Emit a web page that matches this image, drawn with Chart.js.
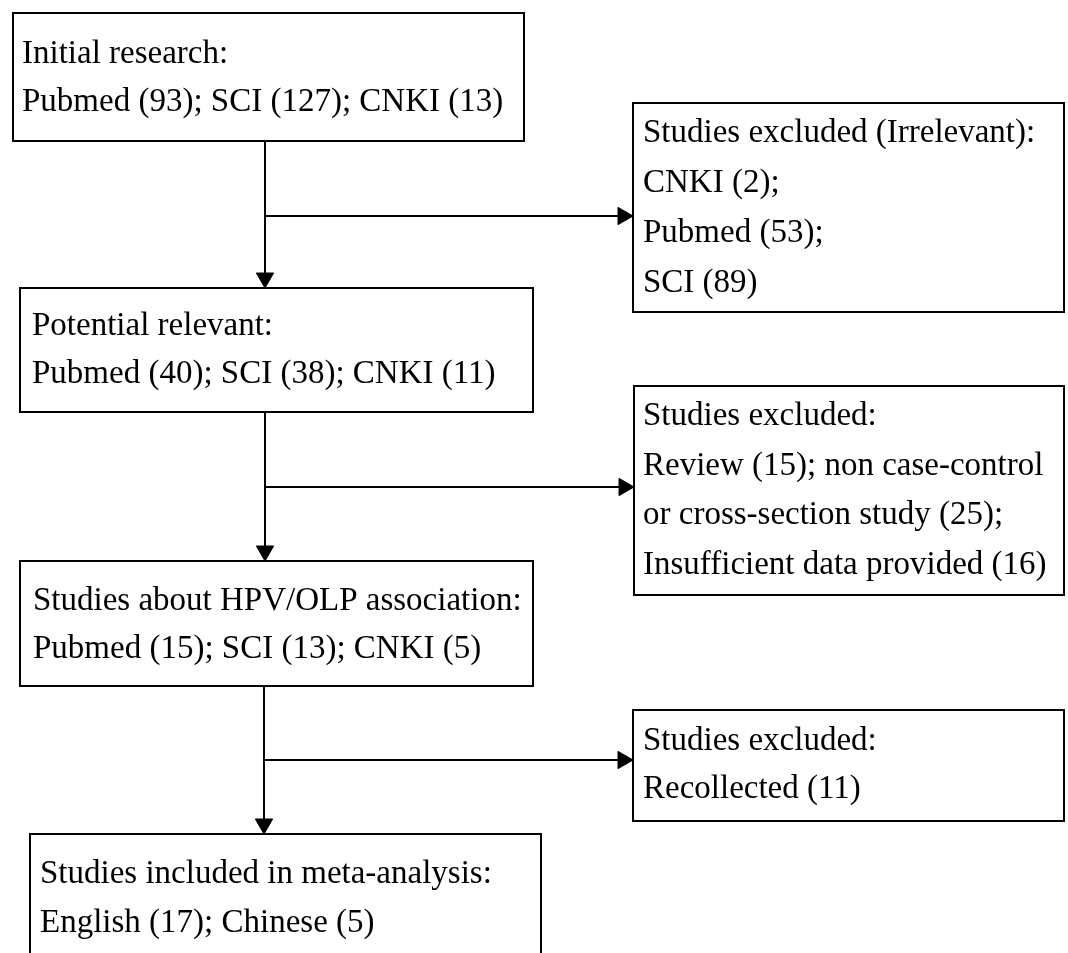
<!DOCTYPE html>
<html>
<head>
<meta charset="utf-8">
<script src="https://cdn.jsdelivr.net/npm/chart.js@4.4.1/dist/chart.umd.min.js"></script>
<style>
  html, body { margin: 0; padding: 0; background: #fff; }
  #wrap { width: 1068px; height: 953px; }
</style>
</head>
<body>
<div id="wrap"><canvas id="flow" width="1068" height="953"></canvas></div>
<script>
// Study selection flow (HPV / OLP meta-analysis), drawn on a 1:1 linear x/y plane

// counts per database at each stage
const databases = ['Pubmed', 'SCI', 'CNKI'];
const initialCounts = [93, 127, 13];
const potentialCounts = [40, 38, 11];
const associationCounts = [15, 13, 5];

// first exclusion step (irrelevant)
const irrelevantSources = ['CNKI', 'Pubmed', 'SCI'];
const irrelevantCounts = [2, 53, 89];

// second exclusion step
const exclusionCounts = [15, 25, 16]; // review, non case-control/cross-section, insufficient data
const recollectedCount = 11;

// final inclusion
const languages = ['English', 'Chinese'];
const includedCounts = [17, 5];

const fmt = (name, n) => `${name} (${n})`;
const joinCounts = (names, counts) => names.map((d, i) => fmt(d, counts[i])).join('; ');

const boxLines = {
  initial: ['Initial research:', joinCounts(databases, initialCounts)],
  irrelevant: ['Studies excluded (Irrelevant):'].concat(
    irrelevantSources.map((s, i) => fmt(s, irrelevantCounts[i]) + (i < irrelevantSources.length - 1 ? ';' : ''))),
  potential: ['Potential relevant:', joinCounts(databases, potentialCounts)],
  excluded: ['Studies excluded:',
    `${fmt('Review', exclusionCounts[0])}; non case-control`,
    `or cross-section study (${exclusionCounts[1]});`,
    fmt('Insufficient data provided', exclusionCounts[2])],
  association: ['Studies about HPV/OLP association:', joinCounts(databases, associationCounts)],
  recollected: ['Studies excluded:', fmt('Recollected', recollectedCount)],
  included: ['Studies included in meta-analysis:', joinCounts(languages, includedCounts)]
};

// box geometry (page units), text origin and line step
const layout = {
  initial:     { x0: 13,  y0: 13,  x1: 524,  y1: 141, tx: 22,  ty: 63,  step: 48 },
  irrelevant:  { x0: 633, y0: 103, x1: 1064, y1: 312, tx: 643, ty: 142, step: 50 },
  potential:   { x0: 20,  y0: 288, x1: 533,  y1: 412, tx: 32,  ty: 335, step: 48 },
  excluded:    { x0: 634, y0: 386, x1: 1064, y1: 595, tx: 643, ty: 425, step: 49.5 },
  association: { x0: 20,  y0: 561, x1: 533,  y1: 686, tx: 33,  ty: 610, step: 48 },
  recollected: { x0: 633, y0: 710, x1: 1064, y1: 821, tx: 643, ty: 750, step: 48 },
  included:    { x0: 30,  y0: 834, x1: 541,  y1: 975, tx: 40,  ty: 883, step: 49 }
};

// main spine: from, to, branch target, branch y
const steps = [
  { from: 'initial', to: 'potential', side: 'irrelevant', x: 265, by: 216 },
  { from: 'potential', to: 'association', side: 'excluded', x: 265, by: 487 },
  { from: 'association', to: 'included', side: 'recollected', x: 264, by: 760 }
];

const HEAD = 10; // triangle point radius

const datasets = [];
const lineStyle = { showLine: true, borderColor: '#000', borderWidth: 2, pointRadius: 0, tension: 0,
  borderJoinStyle: 'miter', borderCapStyle: 'square', backgroundColor: '#000', fill: false };

Object.keys(layout).forEach(k => {
  const b = layout[k];
  datasets.push(Object.assign({
    label: k,
    data: [{x: b.x0, y: b.y0}, {x: b.x1, y: b.y0}, {x: b.x1, y: b.y1}, {x: b.x0, y: b.y1}, {x: b.x0, y: b.y0}]
  }, lineStyle));
});

const heads = [];
const rotations = [];
steps.forEach(s => {
  const top = layout[s.from].y1;
  const tip = layout[s.to].y0;
  const sideX = layout[s.side].x0;
  datasets.push(Object.assign({ label: s.from + '-down',
    data: [{x: s.x, y: top}, {x: s.x, y: tip - HEAD}] }, lineStyle, { borderCapStyle: 'butt' }));
  datasets.push(Object.assign({ label: s.from + '-side',
    data: [{x: s.x, y: s.by}, {x: sideX - HEAD, y: s.by}] }, lineStyle, { borderCapStyle: 'butt' }));
  heads.push({x: s.x, y: tip - HEAD});
  rotations.push(180);
  heads.push({x: sideX - HEAD, y: s.by});
  rotations.push(90);
});

datasets.push({
  label: 'heads',
  data: heads,
  showLine: false,
  pointStyle: 'triangle',
  pointRadius: HEAD,
  pointRotation: rotations,
  pointBackgroundColor: '#000',
  pointBorderColor: '#000',
  pointBorderWidth: 1
});

const textPlugin = {
  id: 'boxText',
  afterDatasetsDraw(chart) {
    const {ctx, scales: {x, y}} = chart;
    ctx.save();
    ctx.fillStyle = '#000';
    ctx.font = '33px "Liberation Serif", "Times New Roman", serif';
    ctx.textBaseline = 'alphabetic';
    ctx.textAlign = 'left';
    Object.keys(layout).forEach(k => {
      const b = layout[k];
      boxLines[k].forEach((t, i) => {
        ctx.fillText(t, x.getPixelForValue(b.tx), y.getPixelForValue(b.ty + i * b.step));
      });
    });
    ctx.restore();
  }
};

new Chart(document.getElementById('flow'), {
  type: 'scatter',
  data: { datasets },
  options: {
    responsive: false,
    animation: false,
    devicePixelRatio: 1,
    events: [],
    layout: { padding: 0, autoPadding: false },
    scales: {
      x: { type: 'linear', min: 0, max: 1068, display: false },
      y: { type: 'linear', min: 0, max: 953, reverse: true, display: false }
    },
    plugins: { legend: { display: false }, tooltip: { enabled: false } }
  },
  plugins: [textPlugin]
});
</script>
</body>
</html>
